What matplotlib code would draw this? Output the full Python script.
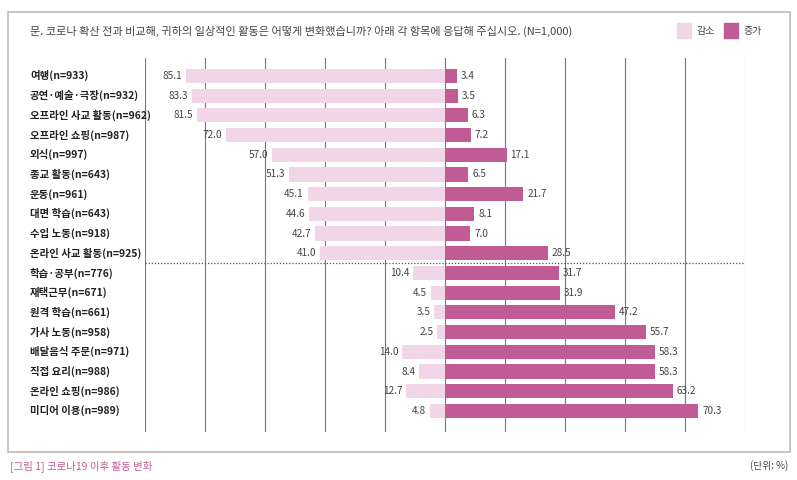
import matplotlib

matplotlib.use("Agg")
import matplotlib.pyplot as plt
from matplotlib.patches import Rectangle

plt.rcParams["font.family"] = ["Noto Sans CJK KR", "DejaVu Sans"]

categories = [
    "여행(n=933)", "공연·예술·극장(n=932)", "오프라인 사교 활동(n=962)", "오프라인 쇼핑(n=987)",
    "외식(n=997)", "종교 활동(n=643)", "운동(n=961)", "대면 학습(n=643)", "수입 노동(n=918)",
    "온라인 사교 활동(n=925)", "학습·공부(n=776)", "재택근무(n=671)", "원격 학습(n=661)",
    "가사 노동(n=958)", "배달음식 주문(n=971)", "직접 요리(n=988)", "온라인 쇼핑(n=986)",
    "미디어 이용(n=989)",
]
decrease = [85.1, 83.3, 81.5, 72.0, 57.0, 51.3, 45.1, 44.6, 42.7, 41.0,
            10.4, 4.5, 3.5, 2.5, 14.0, 8.4, 12.7, 4.8]
increase = [3.4, 3.5, 6.3, 7.2, 17.1, 6.5, 21.7, 8.1, 7.0, 28.5,
            31.7, 31.9, 47.2, 55.7, 58.3, 58.3, 63.2, 70.3]

LIGHT = "#f0d6e6"
DARK = "#c05b94"
DEC_SCALE = 3.04  # the source draws the two sides on different scales
INC_SCALE = 3.6

fig = plt.figure(figsize=(7.97, 4.8), dpi=100)
fig.patches.append(Rectangle((8 / 797, 1 - 452 / 480), 782 / 797, 440 / 480,
                             transform=fig.transFigure, fill=False,
                             edgecolor="#bbbbbb", linewidth=1.2))
ax = fig.add_axes([145 / 797, 1 - 432 / 480, 600 / 797, 374 / 480])
n = len(categories)
ys = range(n)
ax.barh(ys, [-d * DEC_SCALE for d in decrease], height=0.72, color=LIGHT, zorder=2)
ax.barh(ys, [v * INC_SCALE for v in increase], height=0.72, color=DARK, zorder=2)
for y, d, v in zip(ys, decrease, increase):
    ax.text(-d * DEC_SCALE - 4, y, f"{d:.1f}", ha="right", va="center", fontsize=7.2, color="#444444")
    ax.text(v * INC_SCALE + 4, y, f"{v:.1f}", ha="left", va="center", fontsize=7.2, color="#444444")
    ax.text(-300 - 115, y, categories[y], ha="left", va="center", fontsize=7.5,
            fontweight="bold", color="#222222")
for gx in range(-300, 301, 60):
    ax.axvline(gx, color="#777777", linewidth=0.8, zorder=1)
ax.plot([-300, 300], [9.5, 9.5], linestyle=(0, (1, 1.5)), color="#555555", linewidth=0.9, zorder=3)
ax.set_xlim(-300, 300)
ax.set_ylim(18.07, -0.91)
ax.axis("off")

fig.text(30 / 797, 1 - 31 / 480, "문. 코로나 확산 전과 비교해, 귀하의 일상적인 활동은 어떻게 변화했습니까? 아래 각 항목에 응답해 주십시오. (N=1,000)",
         fontsize=8, color="#444444", va="center", fontweight="medium")
for x0, col, lab in [(677, LIGHT, "감소"), (724, DARK, "증가")]:
    fig.patches.append(Rectangle((x0 / 797, 1 - 38 / 480), 14 / 797, 15 / 480,
                                 transform=fig.transFigure, color=col))
    fig.text((x0 + 20) / 797, 1 - 31 / 480, lab, fontsize=7.2, color="#444444", va="center")
fig.text(10 / 797, 1 - 466 / 480, "[그림 1] 코로나19 이후 활동 변화", fontsize=7.5, color="#c05b94", va="center")
fig.text(788 / 797, 1 - 466 / 480, "(단위: %)", fontsize=7, color="#444444", va="center", ha="right")

fig.savefig("out.png", dpi=100)
